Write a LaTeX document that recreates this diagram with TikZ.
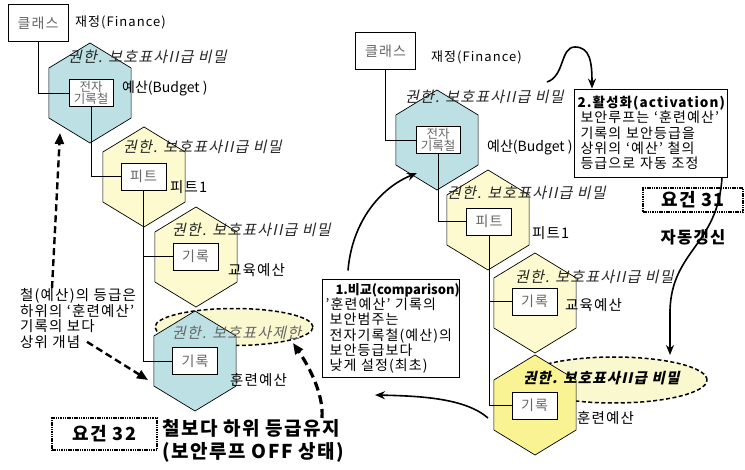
\documentclass[tikz,border=0pt]{standalone}
\usepackage{fontspec}
\setmainfont{Noto Sans CJK KR}[LetterSpace=8]
\newfontfamily\slfont[FakeSlant=0.22,LetterSpace=8]{Noto Sans CJK KR}
\newfontfamily\tightfont{Noto Sans CJK KR}
\usetikzlibrary{shapes.geometric,arrows.meta}

\definecolor{hexblue}{RGB}{188,224,228}
\definecolor{hexyel}{RGB}{252,250,206}
\definecolor{hexgold}{RGB}{249,243,148}
\definecolor{ellyel}{RGB}{250,248,206}

\tikzset{
  hexa/.style={draw, regular polygon, regular polygon sides=6, shape border rotate=90,
    minimum size=100pt, inner sep=0pt, xscale=0.95, line width=0.7pt},
  clsbox/.style={draw, fill=white, inner sep=0pt, minimum width=60pt, minimum height=37pt,
    text=black!60, font=\fontsize{14}{14}\selectfont},
  itembox/.style={draw, fill=white, inner sep=0pt, minimum width=45pt, minimum height=27pt,
    text=black!60, font=\fontsize{14}{14}\selectfont},
  docbox/.style={itembox, minimum width=44pt, align=center, font=\tightfont\fontsize{12.5}{12.5}\selectfont},
  hexlab/.style={anchor=west, inner sep=0pt, text=black!85, font=\slfont\fontsize{15}{15}\selectfont},
  plain/.style={anchor=west, inner sep=0pt, font=\fontsize{14.5}{14.5}\selectfont},
  txtbox/.style={draw, line width=0.8pt, fill=white, inner sep=3.5pt, align=left,
    font=\fontsize{14}{15.3}\selectfont},
  reqbox/.style={draw, line width=2.2pt, dash pattern=on 1.5pt off 0.8pt, inner sep=0pt,
    font=\bfseries\fontsize{18}{18}\selectfont},
  elps/.style={ellipse, draw, line width=1.5pt, dash pattern=on 4pt off 2.5pt, fill=ellyel, inner sep=0pt},
  dasharr/.style={line width=2.4pt, dash pattern=on 7pt off 4pt, -{Triangle[length=11pt,width=9pt]}},
  solarr/.style={line width=1.6pt, -{Stealth[length=10pt,width=8pt]}}
}

\begin{document}
\begin{tikzpicture}[x=1pt,y=-1pt]
\useasboundingbox (0,0) rectangle (745,470);

% ---- left: before (OFF)
\node[elps, minimum width=158pt, minimum height=37pt] (ellL) at (234,327) {};
\node[hexa, fill=hexblue] (hexL1) at (90,93) {};
\node[hexa, fill=hexyel] (hexL2) at (144,177) {};
\node[hexa, fill=hexyel] (hexL3) at (196,257) {};
\node[hexa, fill=hexblue] (hexL4) at (195,361) {};

\node[clsbox] (cls1) at (38,23) {클래스};
\node[plain, font=\fontsize{13}{13}\selectfont] at (75,22) {재정(Finance)};
\node[hexlab] at (68,57) {권한. 보호표사II급 비밀};
\node[docbox] (doc1) at (91,93) {전자\\기록철};
\node[plain, font=\tightfont\fontsize{14}{14}\selectfont] at (122,88) {예산(Budget )};
\node[hexlab] at (123,147) {권한. 보호표사II급 비밀};
\node[itembox] (pit1) at (143.5,176.5) {피트};
\node[plain] at (170,187) {피트1};
\node[hexlab] at (172,230) {권한. 보호표사II급 비밀};
\node[itembox] (rec1) at (195.5,256.5) {기록};
\node[plain] at (228,270) {교육예산};
\node[hexlab, text=black!60] at (172,333) {권한. 보호표사제한};
\node[itembox] (rec2) at (195,361) {기록};
\node[plain] at (230,380) {훈련예산};

\draw (cls1.south) |- (doc1.west);
\draw (doc1.south) |- (pit1.west);
\draw (pit1.south) |- (rec1.west);
\draw (pit1.south) |- (rec2.west);

\node[anchor=west, inner sep=0pt, align=left, font=\fontsize{14.5}{15.7}\selectfont] (note) at (20,318.5)
  {철(예산)의 등급은\\하위의 ‘훈련예산’\\기록의 보다\\상위 개념};
\coordinate (upTip) at (60,133);
\coordinate (hexTip) at (148,380);
\draw[dasharr] ([xshift=32pt]note.north west) -- (upTip);
\draw[dasharr] ([xshift=67pt,yshift=7pt]note.south west) -- (hexTip);

\node[reqbox, minimum width=105pt, minimum height=32pt] (req32) at (104.5,434) {요건 32};
\node[anchor=west, inner sep=0pt, align=left, font=\bfseries\fontsize{19}{23}\selectfont] (offtxt) at (162,441)
  {철보다 하위 등급유지\\(보안루프 OFF 상태)};
\coordinate (ellTip) at (293,343);
\draw[dasharr, line width=3.2pt, dash pattern=on 9pt off 5pt] (322,418) .. controls (324,392) and (306,362) .. (ellTip);

% ---- right: after (activation)
\node[elps, minimum width=186pt, minimum height=46pt] (ellR) at (614,380) {};
\node[hexa, fill=hexblue] (hexR1) at (437,140) {};
\node[hexa, fill=hexyel] (hexR2) at (488,220) {};
\node[hexa, fill=hexyel] (hexR3) at (535,303) {};
\node[hexa, fill=hexgold] (hexR4) at (535,405) {};

\node[clsbox] (cls2) at (385.5,51) {클래스};
\node[plain, font=\fontsize{13}{13}\selectfont] at (431,57) {재정(Finance)};
\node[hexlab] at (405,97) {권한. 보호표사II급 비밀};
\node[docbox] (doc2) at (438,140) {전자\\기록철};
\node[plain, font=\tightfont\fontsize{14}{14}\selectfont] at (487,147) {예산(Budget )};
\node[hexlab] at (447,193) {권한. 보호표사II급 비밀};
\node[itembox] (pit2) at (489,221.5) {피트};
\node[plain] at (532,233) {피트1};
\node[hexlab] at (515,277) {권한. 보호표사II급 비밀};
\node[itembox] (rec3) at (534.5,301.5) {기록};
\node[plain] at (565,305) {교육예산};
\node[hexlab, text=black, font=\slfont\bfseries\fontsize{14.5}{14.5}\selectfont] at (523,378) {권한. 보호표사II급 비밀};
\node[itembox] (rec4) at (534.5,405.5) {기록};
\node[plain] at (577,418) {훈련예산};

\draw (cls2.south) |- (doc2.west);
\draw (doc2.south) |- (pit2.west);
\draw (pit2.south) |- (rec3.west);
\draw (pit2.south) |- (rec4.west);

\node[txtbox, minimum width=137pt, minimum height=95pt, text width=130pt] (cmp) at (390.5,328.5)
  {\hspace*{10pt}{\tightfont\bfseries\fontsize{13}{13}\selectfont 1.비교(comparison)}\\'훈련예산' 기록의\\\hspace*{4pt}보안범주는\\\hspace*{4pt}전자기록철(예산)의\\\hspace*{4pt}보안등급보다\\\hspace*{4pt}낮게 설정(최초)};
\node[txtbox, minimum width=153pt, minimum height=88pt, text width=146pt] (act) at (650.5,133)
  {{\bfseries\fontsize{13.5}{13.5}\selectfont 2.활성화(activation)}\\\hspace*{3pt}보안루프는 ‘훈련예산’\\\hspace*{3pt}기록의 보안등급을\\\hspace*{3pt}상위의 ‘예산’ 철의\\\hspace*{3pt}등급으로 자동 조정};
\node[reqbox, minimum width=100pt, minimum height=24pt] (req31) at (693,200) {요건 31};
\node[inner sep=0pt, font=\bfseries\fontsize{16.5}{16.5}\selectfont] (auto) at (693,237) {자동갱신};

\coordinate (cmpTip) at (417,173);
\coordinate (backTip) at (375,395);
\coordinate (hopStart) at (547,82);
\coordinate (ellRTip) at (670,355);
\draw[solarr] ([xshift=-42.5pt,yshift=9pt]cmp.north) .. controls (352,222) and (380,188) .. (cmpTip);
\draw[solarr] (488,418) .. controls (465,398) and (420,396) .. (backTip);
\draw[solarr] (hopStart) .. controls (565,76) and (560,47) .. (575,47) .. controls (590,47) and (592,62) .. ([xshift=-58.5pt]act.north);
\draw[solarr] ([xshift=71.5pt]act.south) .. controls (718,245) and (672,250) .. (670,310) -- (ellRTip);
\end{tikzpicture}
\end{document}
